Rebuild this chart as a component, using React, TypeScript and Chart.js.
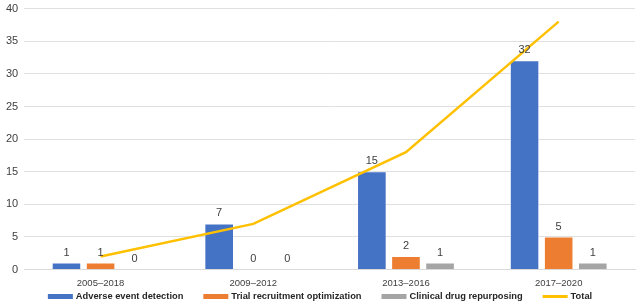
import React, { useEffect, useRef } from "react";
import { Chart, registerables } from "chart.js";
Chart.register(...registerables);

const categories = ["2005–2018", "2009–2012", "2013–2016", "2017–2020"];
const adverse = [1, 7, 15, 32];
const trial = [1, 0, 2, 5];
const repurposing = [0, 0, 1, 1];
const total = [2, 7, 18, 38];

const FONT = "'Liberation Sans', Arial, Helvetica, sans-serif";

const barLabels = {
  id: "barLabels",
  afterDatasetsDraw(chart: any) {
    const ctx = chart.ctx;
    ctx.save();
    ctx.font = `11px ${FONT}`;
    ctx.fillStyle = "#404040";
    ctx.textAlign = "center";
    ctx.textBaseline = "bottom";
    chart.data.datasets.forEach((ds: any, i: number) => {
      if (ds.type === "line") return;
      const meta = chart.getDatasetMeta(i);
      meta.data.forEach((el: any, j: number) => {
        ctx.fillText(String(ds.data[j]), el.x, el.y - 5);
      });
    });
    ctx.restore();
  },
};

const bottomLegend = {
  id: "bottomLegend",
  afterDraw(chart: any) {
    const ctx = chart.ctx;
    ctx.save();
    ctx.font = `bold 9.3px ${FONT}`;
    const items = chart.data.datasets.map((ds: any) => ({
      text: ds.label,
      color: ds.type === "line" ? ds.borderColor : ds.backgroundColor,
      line: ds.type === "line",
    }));
    const boxW = 25, gap = 3, spacing = 20;
    const widths = items.map((it: any) => boxW + gap + ctx.measureText(it.text).width);
    const totalW = widths.reduce((a: number, b: number) => a + b, 0) + spacing * (items.length - 1);
    let x = (chart.width - totalW) / 2;
    const y = 300.5;
    ctx.textBaseline = "middle";
    ctx.textAlign = "left";
    items.forEach((it: any, i: number) => {
      ctx.fillStyle = it.color;
      if (it.line) ctx.fillRect(x, y - 1.5, boxW, 3);
      else ctx.fillRect(x, y - 2.5, boxW, 5);
      ctx.fillStyle = "#262626";
      ctx.fillText(it.text, x + boxW + gap, y);
      x += widths[i] + spacing;
    });
    ctx.restore();
  },
};

export default function App() {
  const ref = useRef<HTMLCanvasElement>(null);
  useEffect(() => {
    document.body.style.margin = "0";
    const chart = new Chart(ref.current!, {
      type: "bar",
      data: {
        labels: categories,
        datasets: [
          {
            label: "Adverse event detection",
            data: adverse,
            backgroundColor: "#4472C4",
            borderColor: "#ffffff",
            borderWidth: 0.5,
            order: 1,
          },
          {
            label: "Trial recruitment optimization",
            data: trial,
            backgroundColor: "#ED7D31",
            borderColor: "#ffffff",
            borderWidth: 0.5,
            order: 1,
          },
          {
            label: "Clinical drug repurposing",
            data: repurposing,
            backgroundColor: "#A5A5A5",
            borderColor: "#ffffff",
            borderWidth: 0.5,
            order: 1,
          },
          {
            type: "line",
            label: "Total",
            data: total,
            borderColor: "#FFC000",
            backgroundColor: "#FFC000",
            borderWidth: 2.5,
            pointRadius: 0,
            tension: 0,
            order: 0,
          } as any,
        ],
      },
      options: {
        animation: false,
        responsive: false,
        maintainAspectRatio: false,
        layout: { padding: { top: 0, right: 5, left: 0, bottom: 11 } },
        datasets: { bar: { categoryPercentage: 0.67, barPercentage: 0.84 } } as any,
        scales: {
          x: {
            grid: { display: false, drawTicks: false, tickLength: 0 },
            border: { color: "#d9d9d9" },
            ticks: { font: { family: FONT, size: 9.5 }, color: "#404040", padding: 8 },
          },
          y: {
            min: 0,
            max: 40,
            ticks: { stepSize: 5, font: { family: FONT, size: 11 }, color: "#404040", padding: 6 },
            grid: { color: "#e0e0e0", lineWidth: 1, drawTicks: false },
            border: { display: false },
          },
        },
        plugins: {
          legend: { display: false },
          tooltip: { enabled: false },
        },
      },
      plugins: [barLabels, bottomLegend],
    });
    return () => chart.destroy();
  }, []);
  return (
    <canvas
      ref={ref}
      width={640}
      height={312}
      style={{ display: "block", marginTop: -4 }}
    />
  );
}
